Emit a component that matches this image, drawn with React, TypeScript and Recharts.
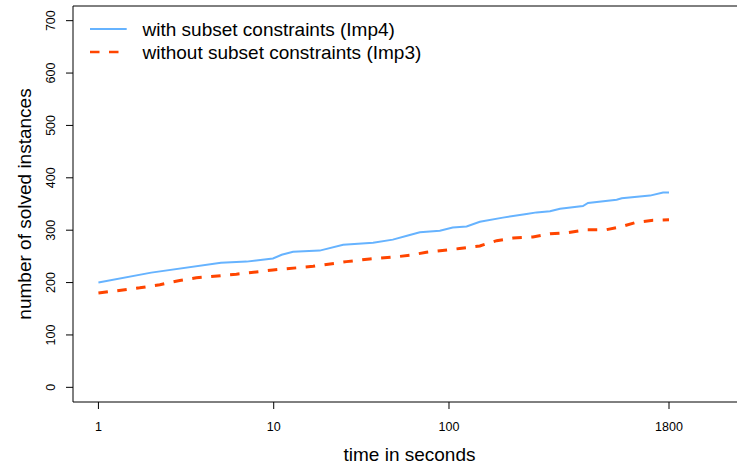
import React from "react";
import { LineChart, Line, XAxis, YAxis, ReferenceLine, Legend } from "recharts";

const blueTimes = [1, 2, 5, 7, 9.9, 11.1, 12.9, 18.3, 24.9, 36.9, 47.8, 58.3, 68.2, 88.7, 105, 126, 150, 203, 277, 316, 377, 430, 581, 621, 905, 967, 1402, 1665, 1800];
const blueSolved = [200, 219, 238, 240, 246, 253, 259, 261, 272, 276, 282, 290, 296, 299, 305, 307, 316, 324, 331, 334, 336, 341, 346, 352, 358, 361, 366, 372, 372];

const redTimes = [1, 1.72, 2.24, 2.91, 3.62, 6.12, 9.9, 16.8, 26, 35.3, 52.5, 59.7, 74.3, 115, 150, 187, 232, 301, 377, 468, 608, 791, 967, 1172, 1459, 1800];
const redSolved = [180, 190, 196, 204, 209, 216, 224, 231, 240, 245, 250, 252, 258, 265, 270, 280, 285, 287, 293, 295, 301, 301, 307, 315, 319, 320];

const xTicks = [1, 10, 100, 1800];
const yTicks = [0, 100, 200, 300, 400, 500, 600, 700];

const seriesNames = ["with subset constraints (Imp4)", "without subset constraints (Imp3)"];
const seriesColors = ["#66B3FF", "#FF4500"];

const blueData = blueTimes.map((t, i) => ({ t, v: blueSolved[i] }));
const redData = redTimes.map((t, i) => ({ t, v: redSolved[i] }));

const FONT = "'Liberation Sans', Arial, Helvetica, sans-serif";

const XTick = (props: any) => (
  <text x={props.x} y={430.5} textAnchor="middle" fontSize={12.5} fill="#000" fontFamily={FONT}>
    {props.payload.value}
  </text>
);

const YTick = (props: any) => (
  <text
    x={55}
    y={props.y}
    transform={`rotate(-90 55 ${props.y})`}
    textAnchor="middle"
    fontSize={12.5}
    fill="#000"
    fontFamily={FONT}
  >
    {props.payload.value}
  </text>
);

const LegendContent = () => (
  <svg width={440} height={70} style={{ display: "block" }}>
    <line x1={90} x2={126.7} y1={29} y2={29} stroke={seriesColors[0]} strokeWidth={2} />
    <line x1={90} x2={126.7} y1={52} y2={52} stroke={seriesColors[1]} strokeWidth={2.6} strokeDasharray="9.5 9.5" />
    <text x={142.5} y={36} fontSize={19} fill="#000" fontFamily={FONT}>{seriesNames[0]}</text>
    <text x={142.5} y={59} fontSize={19} fill="#000" fontFamily={FONT}>{seriesNames[1]}</text>
  </svg>
);

export default function App() {
  return (
    <div style={{ position: "absolute", left: 0, top: 0, width: 737, height: 465, background: "#fff", fontFamily: FONT }}>
      <LineChart width={737} height={465} margin={{ top: 6, right: 0, left: 0, bottom: 0 }}>
        <XAxis
          dataKey="t"
          type="number"
          scale="log"
          domain={[0.716, 4397]}
          allowDataOverflow
          ticks={xTicks}
          tick={<XTick />}
          tickSize={7}
          height={63}
          axisLine={{ stroke: "#000", strokeWidth: 1 }}
          tickLine={{ stroke: "#000", strokeWidth: 1 }}
          label={{
            content: () => (
              <text x={409.5} y={461} textAnchor="middle" fontSize={19} fill="#000" fontFamily={FONT}>
                time in seconds
              </text>
            ),
          }}
        />
        <YAxis
          dataKey="v"
          type="number"
          domain={[-28, 728]}
          allowDataOverflow
          ticks={yTicks}
          tick={<YTick />}
          tickSize={7}
          width={73}
          axisLine={{ stroke: "#000", strokeWidth: 1 }}
          tickLine={{ stroke: "#000", strokeWidth: 1 }}
          label={{
            content: () => (
              <text
                x={31}
                y={204}
                transform="rotate(-90 31 204)"
                textAnchor="middle"
                fontSize={19}
                fill="#000"
                fontFamily={FONT}
              >
                number of solved instances
              </text>
            ),
          }}
        />
        <ReferenceLine y={728} stroke="#000" strokeWidth={1} />
        <Legend
          layout="vertical"
          align="center"
          verticalAlign="middle"
          content={<LegendContent />}
          wrapperStyle={{ left: 0, top: 0, width: 440, height: 70 }}
        />
        <Line
          data={blueData}
          dataKey="v"
          name={seriesNames[0]}
          type="linear"
          stroke={seriesColors[0]}
          strokeWidth={2}
          dot={false}
          activeDot={false}
          isAnimationActive={false}
        />
        <Line
          data={redData}
          dataKey="v"
          name={seriesNames[1]}
          type="linear"
          stroke={seriesColors[1]}
          strokeWidth={3}
          strokeDasharray="9.5 9.5"
          dot={false}
          activeDot={false}
          isAnimationActive={false}
        />
      </LineChart>
    </div>
  );
}
